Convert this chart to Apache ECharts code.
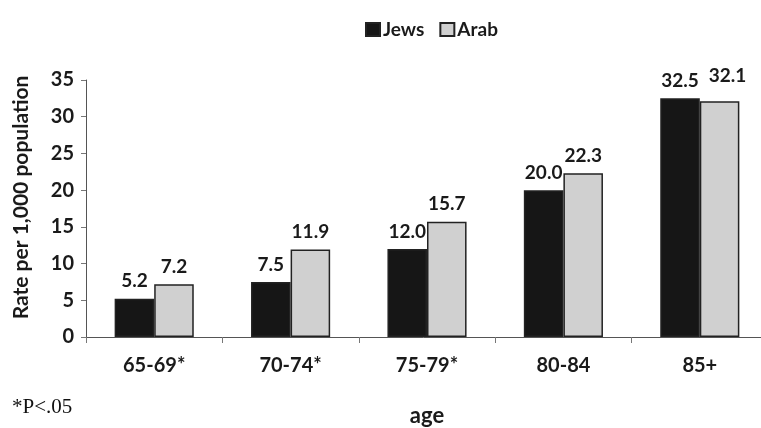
<!DOCTYPE html>
<html><head><meta charset="utf-8">
<script src="https://cdn.jsdelivr.net/npm/echarts@6/dist/echarts.min.js"></script>
<style>html,body{margin:0;padding:0;background:#fff}#c{width:761px;height:428px}</style>
</head><body><div id="c"></div>
<script>
const categories = ['65-69*', '70-74*', '75-79*', '80-84', '85+'];
const jews = [5.2, 7.5, 12.0, 20.0, 32.5];
const arab = [7.2, 11.9, 15.7, 22.3, 32.1];
const yTicks = { min: 0, max: 35, interval: 5 };

const font = 'Lato, "Open Sans", sans-serif';
const chart = echarts.init(document.getElementById('c'), null, { renderer: 'canvas' });
const labelStyle = {
  show: true, position: 'top', distance: 8,
  fontFamily: font, fontWeight: 'bold', fontSize: 19, color: '#1a1a1a',
  formatter: p => p.value.toFixed(1)
};
// the last Arab label is nudged up-right in the original to avoid overlap
const arabData = arab.map((v, i) => i === arab.length - 1 ? { value: v, label: { offset: [8, -8] } } : v);
chart.setOption({
  animation: false,
  textStyle: { fontFamily: font },
  legend: {
    top: 15, left: 360, itemWidth: 14, itemHeight: 13, itemGap: 15, icon: 'rect',
    textStyle: { fontFamily: font, fontWeight: 'bold', fontSize: 19, color: '#1a1a1a', padding: [0, 0, 0, -2] },
    data: ['Jews', 'Arab']
  },
  grid: { left: 86, right: -7, top: 80, bottom: 91, containLabel: false, outerBoundsMode: 'none' },
  graphic: [{
    type: 'text', left: 12, top: 397,
    style: { text: '*P<.05', font: '21px "Liberation Serif", "DejaVu Serif", serif', fill: '#111' }
  }],
  xAxis: {
    type: 'category', data: categories,
    name: 'age', nameLocation: 'middle', nameGap: 68,
    nameTextStyle: { fontFamily: font, fontWeight: 'bold', fontSize: 22, color: '#1a1a1a' },
    axisLine: { lineStyle: { color: '#555', width: 1 } },
    axisTick: { show: true, alignWithLabel: false, length: 6, lineStyle: { color: '#777' } },
    axisLabel: { fontFamily: font, fontWeight: 'bold', fontSize: 20, color: '#1a1a1a', margin: 19 }
  },
  yAxis: {
    type: 'value', min: yTicks.min, max: yTicks.max, interval: yTicks.interval,
    name: 'Rate per 1,000 population', nameLocation: 'middle', nameGap: 54, nameRotate: 90,
    nameTextStyle: { fontFamily: font, fontWeight: 'bold', fontSize: 21, color: '#1a1a1a', padding: [0, 0, 0, 22] },
    axisLine: { show: true, lineStyle: { color: '#555', width: 1 } },
    axisTick: { show: true, length: 5, lineStyle: { color: '#777' } },
    splitLine: { show: false },
    axisLabel: { fontFamily: font, fontWeight: 'bold', fontSize: 20, color: '#1a1a1a', margin: 12 }
  },
  series: [
    { name: 'Jews', type: 'bar', data: jews, barGap: '0%', barCategoryGap: '42%',
      itemStyle: { color: '#161616', borderColor: '#222', borderWidth: 1.5 }, label: labelStyle },
    { name: 'Arab', type: 'bar', data: arabData,
      itemStyle: { color: '#d0d0d0', borderColor: '#222', borderWidth: 1.5 }, label: labelStyle }
  ]
});
</script></body></html>
